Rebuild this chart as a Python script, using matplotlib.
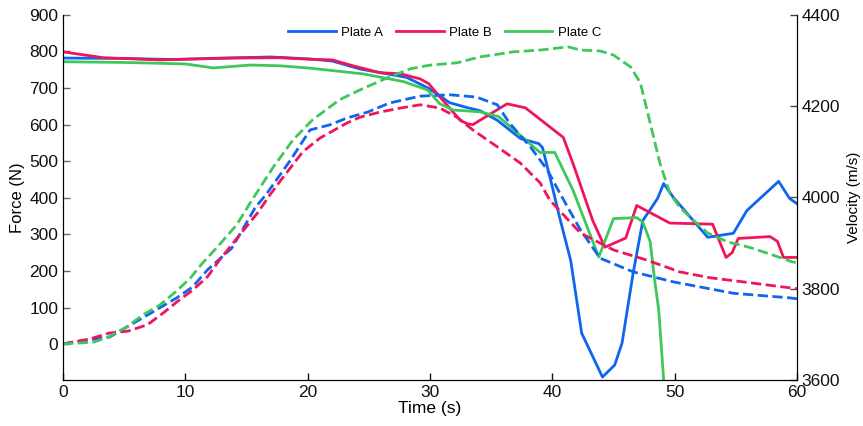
import matplotlib
matplotlib.use("Agg")
import matplotlib.pyplot as plt

plt.rcParams['font.family'] = ['Liberation Sans', 'DejaVu Sans']

# Force (N), solid lines
t_force_a = [0, 5, 9, 13, 17, 20, 22, 24.3, 26.5, 28.1, 29.8, 30.8, 31.6, 33, 34.1, 35.5, 37.4,
             38.9, 39.2, 40, 40.6, 41.5, 42.4, 44.1, 45.1, 45.7, 46.6, 47.4, 48.6, 49.1, 49.9,
             52.7, 54.8, 55.9, 58.5, 59.4, 60]
force_a = [782, 781, 778, 782, 785, 780, 774, 752, 739, 729, 701, 679, 660, 647, 638, 612, 562,
           548, 537, 430, 346, 229, 30, -90, -57, 3, 193, 338, 398, 439, 401,
           292, 303, 365, 445, 398, 384]

t_force_b = [0, 3.3, 7.9, 11.2, 14, 17.7, 20, 22, 23.7, 25.9, 27.6, 29.2, 29.9, 30.6, 32.5, 33.1,
             33.5, 36.3, 37.8, 40.9, 41.7, 43.3, 44.3, 46, 46.9, 49.6, 53.1, 54.2, 54.7, 55.2,
             57.8, 58.4, 58.9, 60]
force_b = [799, 783, 777, 780, 782, 783, 779, 777, 761, 742, 739, 725, 712, 684, 611, 602,
           600, 657, 646, 565, 493, 338, 265, 290, 379, 331, 328, 237, 250, 289,
           294, 281, 237, 237]

t_force_c = [0, 5, 10, 12.3, 15.3, 17.7, 20, 24.5, 27.8, 29.8, 30.8, 31.9, 34.1, 35.6, 39, 40.2,
             41.7, 43.8, 45, 46.9, 47.4, 48, 48.4, 48.7, 49.1, 49.4]
force_c = [772, 770, 766, 755, 763, 761, 755, 739, 718, 695, 657, 640, 635, 622, 524, 524,
           420, 238, 343, 346, 333, 280, 166, 93, -97, -200]

# Velocity (m/s), dashed lines
t_vel_a = [0, 0.8, 3.8, 6.5, 9.3, 10.6, 11.8, 13.8, 15.7, 16.7, 18.6, 20.2, 21.8, 23.2, 24.9,
           26.7, 29.2, 31.6, 33.8, 35.5, 36.5, 38.2, 39.6, 40.6, 42.3, 43.9, 46.6, 49.9, 54.8,
           59.4, 60]
vel_a = [3679, 3683, 3694, 3736, 3780, 3804, 3841, 3889, 3977, 4010, 4082, 4148, 4159, 4174, 4187,
         4207, 4222, 4225, 4220, 4203, 4163, 4111, 4060, 4010, 3929, 3867, 3837, 3815, 3790,
         3780, 3778]

t_vel_b = [0, 2.2, 3.8, 5.3, 6.9, 8.2, 9.3, 10.6, 11.8, 12.8, 13.9, 15.9, 16.9, 17.7, 19.6, 21,
           23.2, 24.3, 25.9, 27.6, 29.2, 30.8, 32.2, 33.5, 35.5, 37.4, 39, 39.8, 42.3, 45, 47.7,
           50.4, 52.9, 55.6, 59.4, 60]
vel_b = [3679, 3690, 3703, 3707, 3721, 3747, 3771, 3797, 3826, 3863, 3900, 3966, 4005, 4034, 4100,
         4130, 4163, 4176, 4187, 4196, 4203, 4196, 4176, 4148, 4111, 4075, 4032, 3994, 3922, 3885,
         3863, 3837, 3824, 3815, 3802, 3800]

t_vel_c = [0, 2.5, 3.7, 5.2, 6.5, 7.9, 9.2, 10.4, 11.4, 12.6, 14.2, 15.3, 17.2, 18.8, 20.4, 22.6,
           24.3, 26.5, 28.4, 30, 32.2, 34.1, 36.8, 39, 41.3, 42.3, 43.9, 45, 46.4, 47.2, 48, 48.8,
           49.6, 50.4, 51.5, 52.7, 54.3, 56.2, 58, 59.6, 60]
vel_c = [3679, 3683, 3694, 3716, 3742, 3764, 3793, 3823, 3856, 3891, 3940, 3988, 4067, 4126, 4170,
         4214, 4236, 4262, 4282, 4290, 4295, 4308, 4319, 4323, 4330, 4323, 4321, 4312, 4286, 4251,
         4163, 4075, 4010, 3979, 3951, 3922, 3903, 3890, 3874, 3859, 3857]

labels = ['Plate A', 'Plate B', 'Plate C']
colors = ['#0f64f0', '#f0145a', '#3cc85a']

fig = plt.figure(figsize=(8.63, 4.26), dpi=100)
ax = fig.add_axes([0.073, 0.108, 0.8505, 0.857])
ax2 = ax.twinx()

force_t = [t_force_a, t_force_b, t_force_c]
force_v = [force_a, force_b, force_c]
vel_t = [t_vel_a, t_vel_b, t_vel_c]
vel_v = [vel_a, vel_b, vel_c]

handles = []
for i in range(3):
    h, = ax.plot(force_t[i], force_v[i], color=colors[i], lw=2, label=labels[i])
    handles.append(h)
    ax2.plot(vel_t[i], vel_v[i], color=colors[i], lw=2, ls='--')

ax.set_xlim(0, 60)
ax.set_ylim(-98, 900)
ax2.set_ylim(3600, 4400)
ax.set_xticks(range(0, 61, 10))
ax.set_yticks(range(0, 901, 100))
ax2.set_yticks(range(3600, 4401, 200))

for a in (ax, ax2):
    a.spines['top'].set_visible(False)
    a.tick_params(direction='in', length=5, width=1, labelsize=12.5, colors='#111111')
ax.tick_params(axis='y', color='#666666')
ax2.tick_params(axis='y', color='#444444')

ax.set_xlabel('Time (s)', fontsize=12.5, labelpad=1)
ax.set_ylabel('Force (N)', fontsize=12, labelpad=3)
ax2.set_ylabel('Velocity (m/s)', fontsize=11, labelpad=5)

ax2.legend(handles, labels, loc='upper center', bbox_to_anchor=(0.52, 1.0), ncol=3,
           frameon=False, fontsize=9.5, handlelength=3.6, handletextpad=0.4,
           columnspacing=1.0)

fig.savefig('out.png', dpi=100, facecolor='white')
